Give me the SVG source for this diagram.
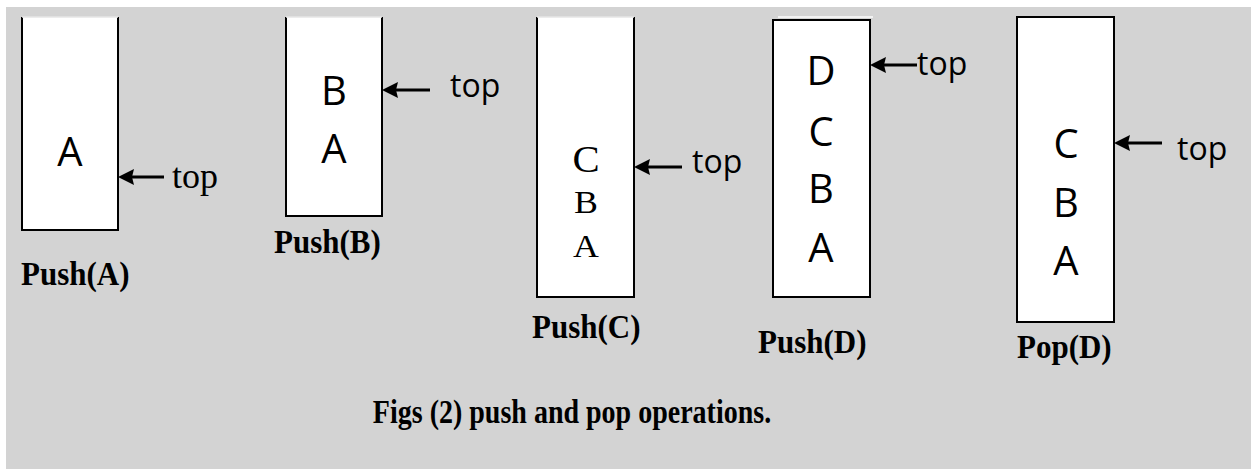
<svg xmlns="http://www.w3.org/2000/svg" width="1251" height="469" viewBox="0 0 1251 469">
<style>
.box{fill:#fff;stroke:none}
.edge{fill:none;stroke:#000;stroke-width:2}
.sans{font-family:"Open Sans","Liberation Sans",sans-serif;fill:#000}
.serif{font-family:"Liberation Serif","Times New Roman",serif;fill:#000}
.big{font-size:40px;text-anchor:middle}
.lbl{font-family:"Liberation Serif","Times New Roman",serif;font-weight:bold;font-size:31px;fill:#000}
.arrow{stroke:#000;stroke-width:3;fill:none}
</style>
<defs>
<path id="ahead" d="M0,0 L16,-8 L14,0 L16,8 Z" fill="#000"/>
</defs>
<rect x="0" y="0" width="1251" height="469" fill="#fff"/>
<rect x="6" y="7" width="1245" height="462" fill="#d3d3d3"/>

<g id="push-a">
<rect class="box" x="22" y="17" width="96" height="213"/>
<path class="edge" d="M22,17 V230 H118 V17"/>
<line x1="22" y1="17" x2="118" y2="17" stroke="#e6e6e6" stroke-width="1.5"/>
<text class="sans big" x="70" y="166">A</text>
<text x="172" y="188" font-family="Liberation Serif, Times New Roman, serif" font-size="36" fill="#000">top</text>
<text class="lbl" transform="translate(21,285) scale(1,1.08)">Push(A)</text>
</g>

<g id="push-b">
<rect class="box" x="286" y="17" width="96" height="199"/>
<path class="edge" d="M286,17 V216 H382 V17"/>
<line x1="286" y1="17" x2="382" y2="17" stroke="#e6e6e6" stroke-width="1.5"/>
<text class="sans big" x="334" y="105">B</text>
<text class="sans big" x="334" y="163">A</text>
<text class="sans" x="450" y="97" font-size="32">top</text>
<text class="lbl" transform="translate(274,253) scale(1,1.08)">Push(B)</text>
</g>

<g id="push-c">
<rect class="box" x="537" y="17" width="97" height="280"/>
<path class="edge" d="M537,17 V297 H634 V17"/>
<line x1="537" y1="17" x2="634" y2="17" stroke="#e6e6e6" stroke-width="1.5"/>
<text class="serif" transform="translate(586,172) scale(1.1,1)" font-size="37" text-anchor="middle">C</text>
<text class="serif" transform="translate(586,213) scale(1.12,1)" font-size="32" text-anchor="middle">B</text>
<text class="serif" transform="translate(586,257) scale(1.12,1)" font-size="32" text-anchor="middle">A</text>
<text class="sans" x="692" y="173" font-size="32">top</text>
<text class="lbl" transform="translate(532,338) scale(1,1.08)">Push(C)</text>
</g>

<g id="push-d">
<line x1="778" y1="17" x2="873" y2="17" stroke="#f2f2f2" stroke-width="2"/>
<rect class="box" x="773" y="20" width="97" height="277"/>
<rect x="773" y="20" width="97" height="277" class="edge"/>
<text class="sans big" x="821" y="85">D</text>
<text class="sans big" x="821" y="146">C</text>
<text class="sans big" x="821" y="203">B</text>
<text class="sans big" x="821" y="262">A</text>
<text class="sans" x="917" y="75" font-size="32">top</text>
<text class="lbl" transform="translate(758,353) scale(1,1.08)">Push(D)</text>
</g>

<g id="pop-d">
<rect class="box" x="1017" y="17" width="97" height="305"/>
<rect x="1017" y="17" width="97" height="305" class="edge"/>
<text class="sans big" x="1066" y="158">C</text>
<text class="sans big" x="1066" y="217">B</text>
<text class="sans big" x="1066" y="275">A</text>
<text class="sans" x="1177" y="160" font-size="32">top</text>
<text class="lbl" transform="translate(1017,358) scale(1,1.08)">Pop(D)</text>
</g>

<g id="connectors">
<line class="arrow" x1="164" y1="177" x2="129" y2="177"/>
<use href="#ahead" x="118" y="177"/>
<line class="arrow" x1="430" y1="90" x2="393" y2="90"/>
<use href="#ahead" x="382" y="90"/>
<line class="arrow" x1="682" y1="167" x2="645" y2="167"/>
<use href="#ahead" x="634" y="167"/>
<line class="arrow" x1="917" y1="65" x2="881" y2="65"/>
<use href="#ahead" x="870" y="65"/>
<line class="arrow" x1="1162" y1="143" x2="1125" y2="143"/>
<use href="#ahead" x="1114" y="143"/>
</g>

<text id="caption" transform="translate(572,423) scale(1,1.17)" font-family="Liberation Serif, Times New Roman, serif" font-weight="bold" font-size="28" text-anchor="middle" fill="#000">Figs (2) push and pop operations.</text>
</svg>
